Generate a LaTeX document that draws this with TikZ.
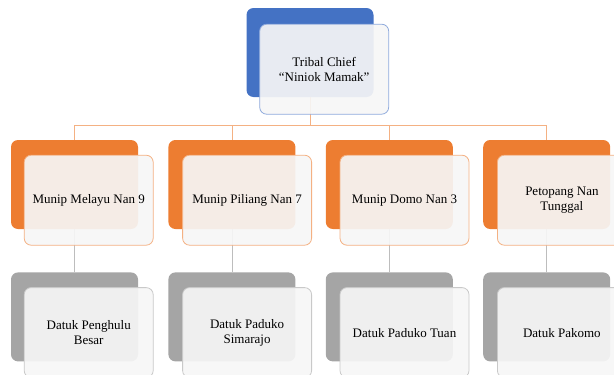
\documentclass[tikz,border=0pt]{standalone}
\usepackage{fontspec}
\setmainfont{Liberation Serif}
\usetikzlibrary{positioning}
\pgfdeclarelayer{background}
\pgfsetlayers{background,main}
\definecolor{chiefblue}{HTML}{4472C4}
\definecolor{chiefline}{HTML}{8FAADC}
\definecolor{munipor}{HTML}{ED7D31}
\definecolor{munipline}{HTML}{F4B183}
\definecolor{datukgray}{HTML}{A5A5A5}
\definecolor{datukline}{HTML}{C9C9C9}
\definecolor{datukwirec}{HTML}{BDBDBD}
\definecolor{boxfill}{HTML}{F6F6F6}

\tikzset{
    back/.style={rounded corners=7pt, minimum width=127pt, minimum height=89pt, inner sep=0pt},
    front/.style={draw, line width=0.8pt, rounded corners=7pt, fill=boxfill, fill opacity=0.92,
        text opacity=1, minimum width=129pt, minimum height=90pt, inner sep=0pt, align=center,
        text=black, font=\fontsize{13}{15}\selectfont},
    chiefwire/.style={draw=munipline, line width=0.8pt},
    datukwire/.style={draw=datukwirec, line width=0.8pt},
}

\begin{document}
\begin{tikzpicture}
    \useasboundingbox (0,0) rectangle (614pt,-375pt);

    \node[back, fill=chiefblue] (chief) at (310pt,-52.5pt) {};
    \node[back, fill=munipor] (m1) at (74.5pt,-184.5pt) {};
    \node[back, fill=munipor, right=30pt of m1] (m2) {};
    \node[back, fill=munipor, right=30pt of m2] (m3) {};
    \node[back, fill=munipor, right=30pt of m3] (m4) {};
    \node[back, fill=datukgray, below=43pt of m1] (d1) {};
    \node[back, fill=datukgray, below=43pt of m2] (d2) {};
    \node[back, fill=datukgray, below=43pt of m3] (d3) {};
    \node[back, fill=datukgray, below=43pt of m4] (d4) {};

    \node[front, draw=chiefline, below right=16pt and 13pt of chief.north west] (chiefbox) {Tribal Chief\\``Niniok Mamak''};
    \node[front, draw=munipline, below right=15pt and 13pt of m1.north west] (m1box) {Munip Melayu Nan 9};
    \node[front, draw=munipline, below right=15pt and 14pt of m2.north west] (m2box) {Munip Piliang Nan 7};
    \node[front, draw=munipline, below right=15pt and 14pt of m3.north west] (m3box) {Munip Domo Nan 3};
    \node[front, draw=munipline, below right=15pt and 14pt of m4.north west] (m4box) {Petopang Nan\\Tunggal};
    \node[front, draw=datukline, below right=15pt and 13pt of d1.north west] (d1box) {Datuk Penghulu\\Besar};
    \node[front, draw=datukline, below right=15pt and 14pt of d2.north west] (d2box) {Datuk Paduko\\Simarajo};
    \node[front, draw=datukline, below right=15pt and 14pt of d3.north west] (d3box) {Datuk Paduko Tuan};
    \node[front, draw=datukline, below right=15pt and 14pt of d4.north west] (d4box) {Datuk Pakomo};

    \begin{pgfonlayer}{background}
        \foreach \m in {m1,m2,m3,m4}
            \draw[chiefwire] (chief.south) -- ++(0,-28pt) -| (\m.north);
        \foreach \m/\dk in {m1/d1,m2/d2,m3/d3,m4/d4}
            \draw[datukwire] (\m.south) -- (\dk.north);
    \end{pgfonlayer}
\end{tikzpicture}
\end{document}
